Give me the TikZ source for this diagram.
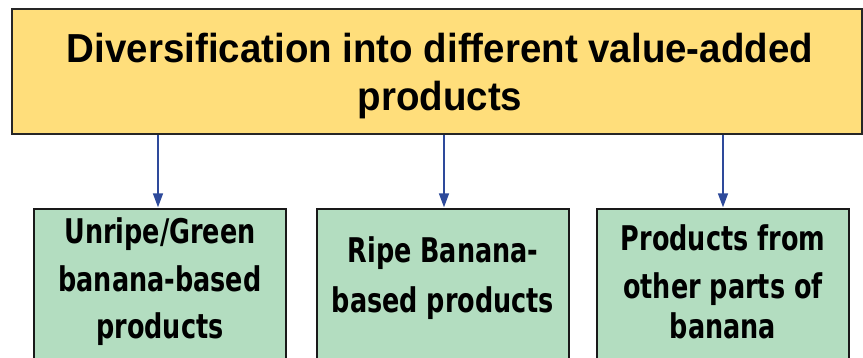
\documentclass[tikz,border=0pt]{standalone}
\usepackage{fontspec}
\setmainfont{Liberation Sans}
\newfontfamily\titlefont[FakeStretch=0.95]{Liberation Sans Bold}
\newfontfamily\boxfont[FakeStretch=0.75]{DejaVu Sans Bold}
\usetikzlibrary{arrows.meta}
\definecolor{topyellow}{HTML}{FFDE7B}
\definecolor{boxgreen}{HTML}{B3DDC0}
\definecolor{arrowblue}{HTML}{2E4A9B}
\tikzset{
  topbox/.style={draw=black!85, line width=1.6pt, fill=topyellow, inner sep=0pt,
    minimum width=850pt, minimum height=125pt},
  subbox/.style={draw=black!90, line width=1.4pt, fill=boxgreen, inner sep=0pt,
    minimum width=252pt, minimum height=161pt},
  titletext/.style={anchor=base, inner sep=0pt, font=\titlefont\fontsize{40.5}{48}\selectfont},
  boxtext/.style={anchor=base, inner sep=0pt, font=\boxfont\fontsize{34}{40}\selectfont},
  conn/.style={draw=arrowblue, line width=1.5pt, -{Triangle[length=14pt,width=10pt]}, shorten >=1pt}
}
\begin{document}
\begin{tikzpicture}[x=1pt,y=-1pt]
\useasboundingbox (0,0) rectangle (863,357);
\fill[white] (0,0) rectangle (863,357);
\begin{scope}
\clip (0,0) rectangle (863,357);
\node[topbox] (top) at (437,71.5) {};
\node[subbox] (b1) at (160,289.5) {};
\node[subbox] (b2) at (443,289.5) {};
\node[subbox] (b3) at (723,289.5) {};
\end{scope}
\node[titletext] (t1) at (440,62) {Diversification into different value-added};
\node[titletext] (t2) at (440,110) {products};
\node[boxtext] (a1) at (160,243) {Unripe/Green};
\node[boxtext] (a2) at (160,291) {banana-based};
\node[boxtext] (a3) at (160,338) {products};
\node[boxtext] (c1) at (443,262) {Ripe Banana-};
\node[boxtext] (c2) at (443,312) {based products};
\node[boxtext] (d1) at (723,250) {Products from};
\node[boxtext] (d2) at (723,298) {other parts of};
\node[boxtext] (d3) at (723,338) {banana};
\draw[conn] ([xshift=-2pt]b1.north |- top.south) -- ([xshift=-2pt]b1.north);
\draw[conn] ([xshift=1pt]b2.north |- top.south) -- ([xshift=1pt]b2.north);
\draw[conn] (b3.north |- top.south) -- (b3.north);
\end{tikzpicture}
\end{document}
